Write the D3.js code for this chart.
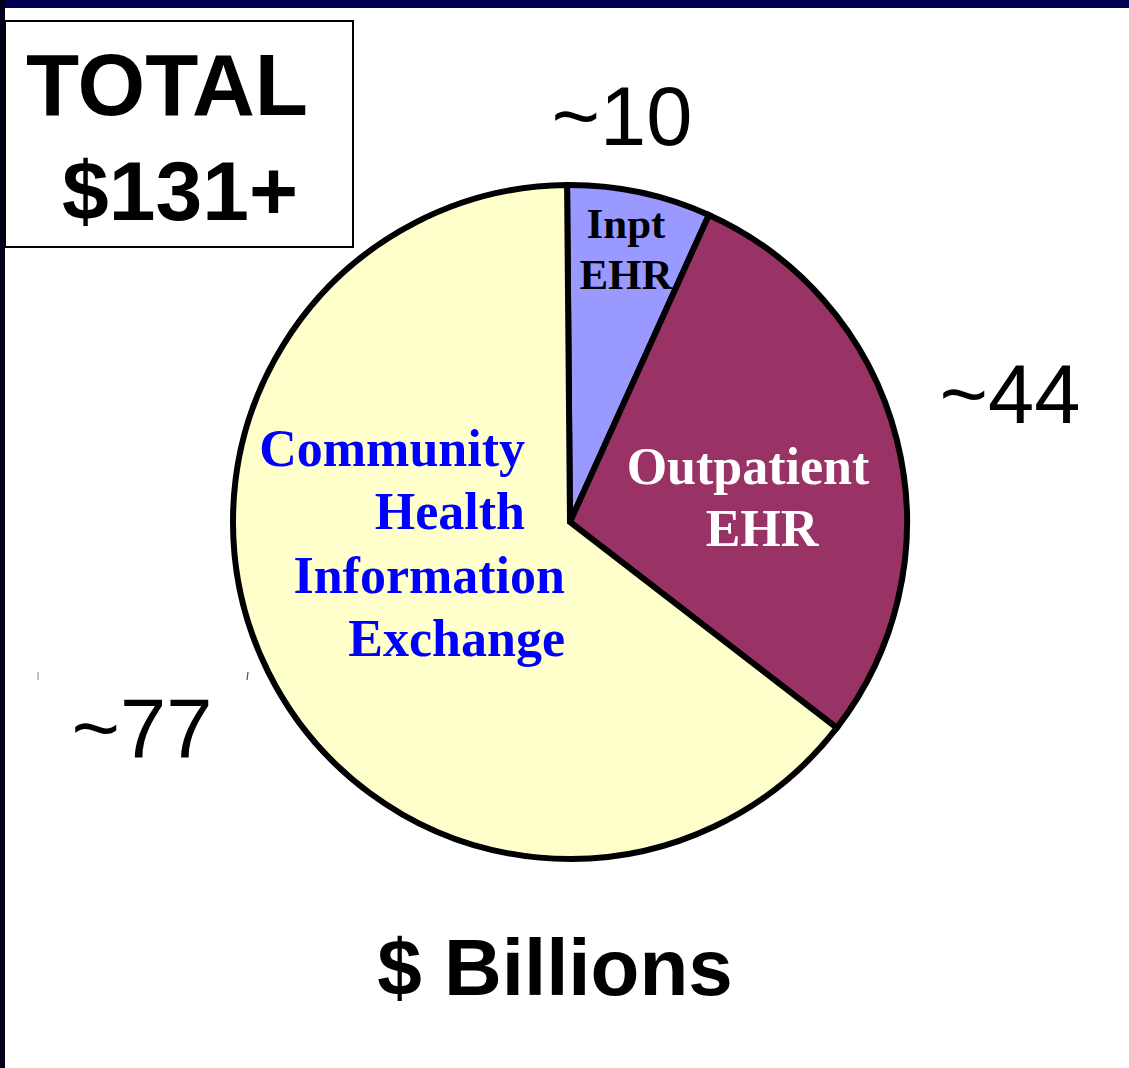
<!DOCTYPE html>
<html>
<head>
<meta charset="utf-8">
<script src="https://cdn.jsdelivr.net/npm/d3@7"></script>
<style>
  body { margin: 0; background: #fff; }
</style>
</head>
<body>
<div id="chart"></div>
<script>
// slices in drawing order, clockwise from top
var categories = ["Inpt EHR", "Outpatient EHR", "Community Health Information Exchange"];
var billions = [10, 44, 77];
var valueLabels = ["~10", "~44", "~77"];
// share of the circle each slice takes in the picture (the drawing is not to scale)
var drawnShare = [6.9, 28.7, 64.4];
var colors = ["#9999ff", "#993366", "#ffffcc"];
var totalLabel = ["TOTAL", "$131+"];
var unitLabel = "$ Billions";

(function(){
  var width = 1129,
    height = 1068;

  var svg = d3.select("#chart")
    .append("svg")
    .attr("width", width)
    .attr("height", height)
    .style("display", "block");

  // frame
  svg.append("rect").attr("x", 0).attr("y", 0).attr("width", width).attr("height", 8).attr("fill", "#000050");
  svg.append("rect").attr("x", 0).attr("y", 0).attr("width", 5).attr("height", height).attr("fill", "#00001a");

  var cx = 570, cy = 522, r = 337;

  var data = categories.map(function(c, i) {
    return { name: c, billions: billions[i], share: drawnShare[i], label: valueLabels[i], color: colors[i] };
  });

  var pie = d3.pie()
    .sort(null)
    .value(function(d) { return d.share })
    .startAngle(-0.5 * Math.PI / 180)
    .endAngle(2 * Math.PI - 0.5 * Math.PI / 180);

  var arc = d3.arc().innerRadius(0).outerRadius(r);

  var g = svg.append("g").attr("transform", "translate(" + cx + "," + cy + ")");

  g.selectAll(".slice")
    .data(pie(data))
    .enter().append("path")
    .attr("class", "slice")
    .attr("d", arc)
    .attr("fill", function(d) { return d.data.color })
    .attr("stroke", "#000")
    .attr("stroke-width", 6)
    .attr("stroke-linejoin", "miter");

  // slice names (bold serif)
  var inner = [
    { lines: ["Inpt", "EHR"], x: [626, 626], y: [238, 289], size: 43, fill: "#000", anchor: "middle" },
    { lines: ["Outpatient", "EHR"], x: [748, 762], y: [484, 546], size: 52, fill: "#ffffff", anchor: "middle" },
    { lines: ["Community", "Health", "Information", "Exchange"], x: [525, 525, 565, 565], y: [466, 529, 593, 656], size: 52, fill: "#0000ff", anchor: "end" }
  ];

  inner.forEach(function(t) {
    t.lines.forEach(function(line, i) {
      svg.append("text")
        .attr("x", t.x[i])
        .attr("y", t.y[i])
        .attr("text-anchor", t.anchor)
        .attr("font-family", "'Liberation Serif', 'Times New Roman', serif")
        .attr("font-weight", "bold")
        .attr("font-size", t.size)
        .attr("fill", t.fill)
        .text(line);
    });
  });

  // value labels outside
  var outPos = [[622, 145], [1010, 423], [142, 757]];
  svg.selectAll(".val")
    .data(data)
    .enter().append("text")
    .attr("class", "val")
    .attr("x", function(d, i) { return outPos[i][0] })
    .attr("y", function(d, i) { return outPos[i][1] })
    .attr("text-anchor", "middle")
    .attr("font-family", "'Liberation Sans', Arial, sans-serif")
    .attr("font-size", 83)
    .attr("fill", "#000")
    .text(function(d) { return d.label });

  // small stray marks near ~77
  svg.append("line").attr("x1", 38).attr("y1", 672).attr("x2", 38).attr("y2", 680).attr("stroke", "#999").attr("stroke-width", 1.2);
  svg.append("line").attr("x1", 248).attr("y1", 672).attr("x2", 247).attr("y2", 680).attr("stroke", "#555").attr("stroke-width", 1.2);

  // total box
  svg.append("rect")
    .attr("x", 5).attr("y", 21)
    .attr("width", 348).attr("height", 226)
    .attr("fill", "#fff")
    .attr("stroke", "#000")
    .attr("stroke-width", 2);

  var totalPos = [[167, 115], [180, 220]];
  var totalSize = [87, 84];
  svg.selectAll(".total")
    .data(totalLabel)
    .enter().append("text")
    .attr("class", "total")
    .attr("x", function(d, i) { return totalPos[i][0] })
    .attr("y", function(d, i) { return totalPos[i][1] })
    .attr("text-anchor", "middle")
    .attr("font-family", "'Liberation Sans', Arial, sans-serif")
    .attr("font-weight", "bold")
    .attr("font-size", function(d, i) { return totalSize[i] })
    .attr("fill", "#000")
    .text(function(d) { return d });

  svg.append("text")
    .attr("x", 555)
    .attr("y", 995)
    .attr("text-anchor", "middle")
    .attr("font-family", "'Liberation Sans', Arial, sans-serif")
    .attr("font-weight", "bold")
    .attr("font-size", 80)
    .attr("fill", "#000")
    .text(unitLabel);
})();
</script>
</body>
</html>
